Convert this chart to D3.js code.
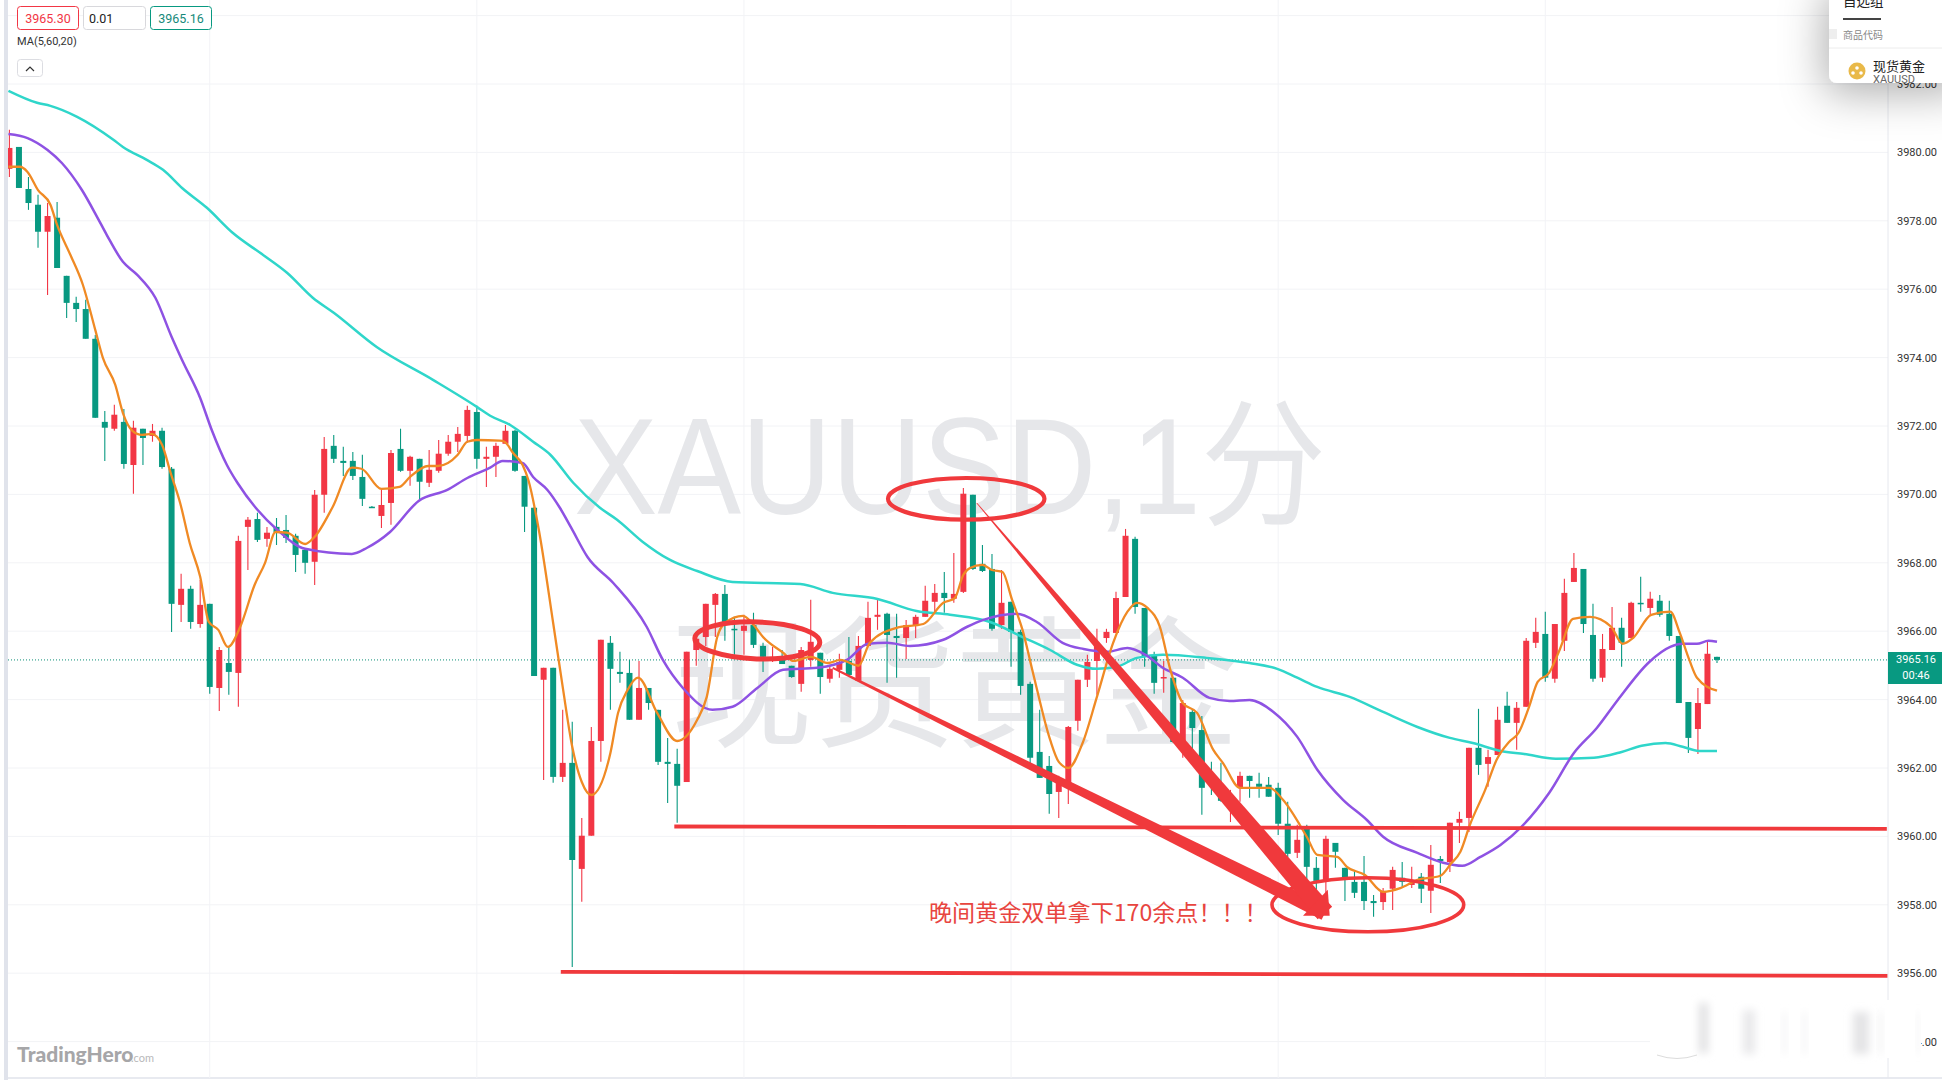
<!DOCTYPE html>
<html><head><meta charset="utf-8">
<script src="https://cdn.jsdelivr.net/npm/d3@7/dist/d3.min.js"></script>
<style>html,body{margin:0;padding:0;background:#fff;overflow:hidden}svg{display:block}</style>
</head><body><div id="chart"></div>
<script>
const opens=[3979.52,3980.16,3978.93,3978.47,3977.68,3978.09,3976.39,3975.60,3975.42,3974.55,
3972.12,3971.92,3972.12,3970.86,3971.92,3971.71,3971.86,3970.75,3966.77,3967.24,
3966.21,3966.80,3964.34,3965.07,3964.78,3969.05,3969.28,3968.70,3969.05,3968.96,
3968.79,3968.38,3968.03,3969.99,3971.42,3970.98,3970.98,3970.51,3969.64,3969.37,
3969.75,3971.33,3970.69,3971.04,3970.34,3970.69,3971.19,3971.54,3971.71,3972.41,
3971.04,3971.10,3971.48,3971.86,3970.54,3969.61,3964.58,3964.93,3961.74,3962.15,
3959.05,3960.02,3962.79,3965.66,3964.81,3964.78,3963.41,3964.34,3963.70,3962.18,
3962.12,3961.59,3965.45,3965.83,3966.77,3967.09,3966.07,3966.01,3966.18,3965.57,
3965.22,3965.25,3964.99,3964.46,3965.16,3965.37,3964.61,3964.87,3965.13,3964.55,
3965.57,3966.42,3966.51,3965.86,3965.80,3966.18,3966.42,3966.86,3967.12,3966.95,
3967.15,3969.99,3967.97,3967.82,3966.18,3966.86,3965.98,3964.46,3962.47,3962.06,
3961.30,3961.42,3963.38,3964.58,3965.13,3965.80,3965.95,3967.00,3968.70,3966.68,
3965.28,3964.64,3964.64,3962.73,3963.64,3963.11,3961.80,3961.27,3960.98,3961.42,
3961.77,3961.54,3961.51,3961.42,3960.37,3959.52,3960.22,3959.08,3958.73,3959.81,
3959.08,3958.67,3958.67,3958.11,3958.08,3958.47,3958.79,3958.58,3958.82,3958.41,
3959.34,3959.25,3960.40,3960.54,3962.59,3962.12,3962.38,3963.82,3963.32,3963.79,
3965.66,3965.92,3964.61,3965.72,3967.44,3967.82,3965.89,3964.64,3965.45,3966.10,
3965.80,3966.83,3966.68,3966.89,3966.51,3965.86,3963.93,3963.14,3963.87,3965.25];
const highs=[3980.66,3980.16,3979.28,3978.76,3978.52,3978.55,3976.39,3975.78,3975.69,3974.66,
3972.44,3972.62,3972.50,3972.15,3971.92,3972.06,3971.95,3970.80,3967.68,3967.33,
3967.50,3966.80,3965.54,3965.54,3968.79,3969.34,3969.46,3969.05,3969.31,3969.40,
3968.85,3968.41,3970.13,3971.68,3971.74,3971.39,3971.24,3971.16,3969.66,3970.19,
3971.30,3971.92,3971.13,3971.04,3971.30,3971.59,3971.74,3971.97,3972.59,3972.59,
3971.39,3971.51,3972.03,3971.89,3970.54,3969.64,3964.93,3964.93,3963.70,3963.35,
3960.54,3963.20,3965.75,3965.86,3965.40,3965.16,3965.13,3964.34,3963.70,3962.88,
3962.56,3965.40,3965.78,3966.80,3967.12,3967.35,3966.42,3966.48,3966.54,3965.66,
3965.54,3965.45,3964.99,3965.54,3966.92,3965.37,3965.02,3965.34,3965.83,3965.86,
3966.86,3966.92,3966.54,3966.51,3966.33,3966.48,3967.33,3967.38,3967.73,3968.29,
3970.19,3969.99,3968.52,3968.26,3967.79,3966.86,3966.04,3964.52,3963.70,3962.35,
3961.77,3963.23,3964.58,3965.31,3966.07,3966.07,3967.15,3968.99,3968.76,3966.68,
3965.40,3965.13,3964.64,3963.99,3963.70,3963.52,3962.18,3962.15,3961.36,3961.89,
3961.77,3961.86,3961.74,3961.57,3961.01,3960.34,3960.34,3959.40,3960.02,3959.81,
3959.08,3958.99,3959.43,3958.29,3958.49,3959.11,3959.25,3959.11,3958.93,3959.75,
3959.43,3960.40,3960.72,3962.59,3963.73,3962.53,3963.79,3964.23,3963.93,3965.80,
3966.39,3966.57,3966.21,3967.53,3968.29,3967.82,3966.80,3965.92,3966.71,3966.39,
3966.86,3967.59,3967.15,3967.06,3966.89,3965.86,3963.93,3964.34,3965.69,3965.25];
const lows=[3979.28,3978.96,3978.32,3977.21,3975.83,3976.62,3975.16,3975.04,3974.55,3972.24,
3970.98,3971.86,3970.75,3970.02,3970.86,3971.54,3970.75,3965.98,3966.27,3966.07,
3966.10,3964.17,3963.67,3964.14,3963.79,3967.79,3968.61,3968.47,3968.52,3968.58,
3967.73,3967.68,3967.35,3969.46,3970.92,3970.54,3970.42,3969.66,3969.61,3969.02,
3969.11,3970.66,3970.25,3969.81,3970.22,3970.63,3971.13,3971.24,3971.51,3970.75,
3970.22,3970.51,3971.48,3970.66,3968.90,3964.69,3961.65,3961.57,3961.59,3956.18,
3958.09,3960.02,3962.18,3963.70,3964.49,3963.41,3963.41,3963.70,3962.09,3960.98,
3960.40,3961.59,3964.99,3965.57,3965.83,3965.72,3965.31,3965.31,3965.51,3964.81,
3965.10,3965.04,3964.64,3964.23,3964.96,3964.17,3964.49,3964.64,3964.72,3964.52,
3965.57,3966.04,3964.49,3964.64,3965.19,3965.80,3966.42,3966.54,3966.54,3966.83,
3967.12,3967.79,3967.73,3966.01,3966.07,3964.96,3964.14,3962.03,3961.71,3960.66,
3960.54,3960.95,3963.09,3964.37,3964.14,3965.66,3965.95,3967.00,3966.51,3964.96,
3964.17,3964.20,3962.73,3962.30,3962.53,3960.63,3961.21,3961.01,3960.42,3961.01,
3961.13,3961.13,3961.16,3960.04,3959.40,3959.37,3958.73,3958.44,3958.23,3959.08,
3958.11,3958.20,3957.85,3957.65,3957.85,3957.85,3958.52,3958.49,3958.05,3957.76,
3958.64,3958.96,3959.81,3960.13,3961.80,3961.45,3962.38,3963.32,3962.53,3963.79,
3965.51,3964.52,3964.49,3965.42,3967.44,3965.95,3964.52,3964.52,3965.45,3964.96,
3965.80,3966.57,3966.48,3966.42,3965.72,3963.90,3962.44,3962.41,3963.87,3965.07];
const closes=[3980.13,3978.96,3978.52,3977.68,3978.14,3976.62,3975.60,3975.42,3974.55,3972.24,
3971.95,3972.33,3970.89,3971.95,3971.65,3971.86,3970.80,3966.80,3967.24,3966.27,
3966.77,3964.37,3965.45,3964.81,3968.64,3969.26,3968.67,3968.88,3968.90,3968.73,
3968.23,3968.00,3969.99,3971.33,3971.04,3970.92,3970.54,3969.87,3969.61,3969.69,
3971.21,3970.69,3971.10,3970.37,3970.72,3971.19,3971.54,3971.77,3972.47,3971.04,
3971.10,3971.42,3971.86,3970.69,3969.64,3964.69,3964.93,3961.74,3962.15,3959.31,
3960.02,3962.79,3965.75,3964.90,3964.75,3963.41,3964.34,3963.90,3962.18,3962.12,
3961.48,3965.40,3965.78,3966.80,3967.09,3966.24,3966.04,3966.16,3965.60,3965.25,
3965.25,3965.04,3964.66,3965.45,3965.69,3964.66,3964.90,3965.10,3964.72,3965.57,
3966.39,3966.48,3965.89,3965.80,3966.18,3966.42,3966.89,3967.12,3966.97,3967.09,
3970.02,3967.82,3967.76,3966.07,3966.83,3965.98,3964.40,3962.30,3961.71,3961.24,
3961.59,3963.20,3964.58,3965.10,3965.66,3965.98,3966.97,3968.79,3966.71,3965.25,
3964.49,3964.66,3962.76,3963.90,3963.17,3961.42,3961.59,3961.04,3961.16,3961.77,
3961.62,3961.45,3961.16,3960.37,3959.49,3959.90,3959.11,3958.70,3959.93,3959.55,
3958.79,3958.35,3958.11,3958.05,3958.38,3959.02,3958.67,3958.64,3958.47,3959.17,
3959.28,3960.40,3960.51,3962.59,3962.09,3962.32,3963.41,3963.32,3963.76,3965.72,
3965.98,3964.64,3966.21,3967.12,3967.85,3966.21,3964.61,3965.48,3966.10,3965.66,
3966.83,3966.80,3966.95,3966.48,3965.86,3963.90,3962.88,3963.90,3965.34,3965.16];

const ma60Idx=[-0.1,2.9,4.3,7.1,10.9,11.9,14.4,16.1,18.1,20.7,23.4,26.6,29.1,31.8,34.0,38.5,44.4,49.0,50.4,52.5,54.9,56.7,59.1,61.9,63.7,66.4,69.2,72.1,75.8,82.9,86.3,91.0,95.1,98.6,102.8,106.2,109.1,111.9,114.0,116.1,118.2,120.9,125.5,130.0,132.9,135.0,137.1,140.5,144.0,147.6,151.0,153.4,156.3,158.8,162.1,166.1,169.0,171.1,173.6,175.4,177.1,179];
const ma60Val=[3981.80,3981.45,3981.36,3981.04,3980.37,3980.16,3979.78,3979.49,3978.96,3978.38,3977.65,3977.00,3976.48,3975.75,3975.31,3974.31,3973.35,3972.56,3972.30,3972.03,3971.54,3971.16,3970.34,3969.61,3969.26,3968.61,3968.09,3967.76,3967.44,3967.38,3967.12,3966.94,3966.59,3966.48,3966.27,3965.83,3965.45,3965.02,3964.90,3964.96,3965.22,3965.31,3965.22,3965.07,3964.90,3964.64,3964.37,3964.08,3963.64,3963.20,3962.88,3962.73,3962.50,3962.41,3962.27,3962.30,3962.47,3962.65,3962.73,3962.62,3962.50,3962.50];
const ma20Idx=[-0.1,1.9,4.0,5.5,7.6,9.2,10.2,11.9,13.4,15.3,17.0,18.1,20.0,21.2,22.8,23.9,26.0,28.1,31.0,35.9,37.5,39.9,42.9,45.9,48.0,50.4,51.7,53.8,54.9,56.4,57.7,58.9,60.6,63.3,66.8,68.5,70.6,73.7,75.8,78.4,81.1,84.7,87.8,90.0,92.0,94.4,97.9,100.4,102.1,105.6,107.7,110.4,112.6,115.1,117.2,119.1,120.9,123.0,125.8,127.9,130.0,132.5,135.0,137.1,139.8,142.3,144.0,147.6,150.3,152.3,154.2,156.3,158.5,161.4,164.0,166.4,168.6,171.9,174.1,175.4,176.9,178.1,179];
const ma20Val=[3980.54,3980.42,3980.07,3979.69,3978.90,3978.11,3977.59,3976.80,3976.42,3975.75,3974.61,3973.93,3972.82,3971.89,3970.86,3970.34,3969.55,3968.96,3968.41,3968.26,3968.44,3968.90,3969.81,3970.13,3970.48,3970.78,3970.98,3970.92,3970.51,3970.13,3969.61,3969.02,3968.17,3967.41,3966.13,3965.16,3964.34,3963.70,3963.79,3964.34,3964.87,3964.93,3965.16,3965.63,3965.66,3965.57,3965.75,3966.13,3966.33,3966.51,3966.27,3965.66,3965.48,3965.40,3965.51,3965.31,3964.93,3964.64,3964.05,3963.96,3963.99,3963.64,3962.91,3961.95,3961.07,3960.48,3959.99,3959.52,3959.23,3959.14,3959.40,3959.75,3960.28,3961.27,3962.44,3963.17,3963.99,3965.10,3965.54,3965.63,3965.63,3965.72,3965.69];
const ma5Idx=[-0.1,1.1,1.9,3.0,4.3,5.0,6.4,7.7,9.0,9.8,11.1,11.9,12.9,13.9,14.9,16.0,16.9,17.9,18.9,20.0,20.9,21.9,22.9,24.2,25.7,26.8,27.9,29.1,31.0,32.0,33.9,35.9,36.9,39.0,40.9,42.0,43.9,44.9,47.0,48.0,49.0,51.4,51.9,52.8,53.8,54.4,55.5,57.0,58.0,59.0,60.0,61.0,63.0,63.8,64.8,65.9,67.9,70.0,72.1,73.1,74.2,75.0,76.9,78.0,79.0,81.1,82.2,84.0,85.8,87.1,89.0,90.2,93.0,95.8,97.9,99.1,100.0,100.7,102.0,103.0,104.1,105.1,106.2,107.3,109.1,110.0,111.0,112.5,114.0,115.7,117.2,118.2,119.3,120.6,121.7,123.0,124.5,126.2,127.2,129.0,132.1,133.5,136.0,137.1,139.2,140.2,142.1,144.0,145.8,147.6,150.0,151.1,152.1,153.1,154.7,155.9,157.2,158.2,159.3,160.2,161.4,162.5,163.9,165.7,167.9,169.1,170.2,172.1,174.1,175.1,176.1,176.9,179];
const ma5Val=[3979.58,3979.58,3979.43,3978.90,3978.47,3977.88,3977.00,3976.13,3974.81,3973.99,3973.20,3972.38,3971.86,3971.74,3971.77,3971.45,3970.63,3969.75,3968.58,3967.59,3966.27,3966.04,3965.54,3966.13,3967.35,3968.00,3968.90,3968.88,3968.55,3968.76,3969.64,3970.78,3970.75,3970.16,3970.22,3970.51,3970.83,3970.83,3971.16,3971.54,3971.59,3971.57,3971.54,3971.21,3970.86,3970.42,3968.96,3966.24,3964.37,3962.62,3961.59,3961.21,3962.44,3963.61,3964.28,3964.64,3963.61,3962.79,3963.41,3964.08,3965.83,3966.24,3966.45,3966.19,3965.83,3965.37,3965.13,3965.25,3965.07,3965.16,3964.99,3965.66,3966.10,3966.21,3966.83,3966.97,3967.65,3967.85,3967.94,3967.79,3967.73,3966.92,3966.04,3964.78,3962.82,3962.18,3962.00,3962.73,3964.08,3965.66,3966.57,3966.83,3966.68,3966.13,3964.87,3963.90,3963.61,3962.53,3962.15,3961.42,3961.42,3961.07,3959.99,3959.46,3959.40,3959.11,3958.87,3958.38,3958.49,3958.73,3958.85,3959.20,3959.55,3960.34,3961.36,3962.24,3962.76,3963.03,3963.79,3964.52,3964.78,3965.45,3966.36,3966.42,3966.13,3965.63,3965.80,3966.48,3966.57,3965.95,3965.16,3964.64,3964.26];

const priceTicks=[3984,3982,3980,3978,3976,3974,3972,3970,3968,3966,3964,3962,3960,3958,3956,3954];
const timeGridIdx=[21,49,77,105,133,161];
const lastPrice=3965.16;
const headerLabels=["3965.30","0.01","3965.16"];
const indicatorLabel="MA(5,60,20)";
const countdownLabel="00:46";
const noteLabel="晚间黄金双单拿下170余点！！！";
const wmSymbol="XAUUSD,1分", wmName="现货黄金";
const hLevels=[{i0:69.7,p0:3960.29,i1:196.8,p1:3960.22},{i0:57.8,p0:3956.04,i1:196.9,p1:3955.92}];
const circles=[{i:78.4,p:3965.73,ri:6.55,rp:0.54,rot:2},{i:100.3,p:3969.87,ri:8.2,rp:0.61,rot:0},{i:142.4,p:3958.00,ri:10.05,rp:0.79,rot:0}];
const arrows=[{i0:86.3,p0:3964.93,i1:137.9,p1:3957.76},{i0:101.4,p0:3969.75,i1:137.9,p1:3957.76}];
const arrowHead=[[135.6,3957.68],[138.2,3958.44],[138.4,3957.68]];

const W=1942,H=1080,left=8,right=1888,bottom=1078;
const n=closes.length;
const x=d3.scaleLinear().domain([0,n-1]).range([9.4,1717]);
const y=d3.scaleLinear().domain([3980,3956]).range([152.4,973.2]);
const RED="#f23645",GREEN="#089981",HAND="#f0393c";

const svg=d3.select("#chart").append("svg").attr("width",W).attr("height",H).attr("viewBox",`0 0 ${W} ${H}`);
const defs=svg.append("defs");
defs.append("clipPath").attr("id","plot").append("rect").attr("x",left).attr("y",0).attr("width",right-left).attr("height",bottom);
const sh=defs.append("filter").attr("id","panelShadow").attr("x","-80%").attr("y","-80%").attr("width","260%").attr("height","300%");
sh.append("feDropShadow").attr("dx",-4).attr("dy",10).attr("stdDeviation",22).attr("flood-color","#000").attr("flood-opacity",0.32);
defs.append("filter").attr("id","smudge").attr("x","-80%").attr("y","-50%").attr("width","260%").attr("height","200%")
  .append("feGaussianBlur").attr("stdDeviation",4);

svg.append("rect").attr("width",W).attr("height",H).attr("fill","#fff");
svg.append("rect").attr("x",4).attr("y",0).attr("width",4).attr("height",H).attr("fill","#e0e3eb");
svg.append("line").attr("x1",8).attr("x2",W).attr("y1",bottom).attr("y2",bottom).attr("stroke","#e0e3eb").attr("stroke-width",1.5);

// grid
const grid=svg.append("g").attr("stroke","#f2f3f6").attr("stroke-width",1);
grid.selectAll("line.h").data(priceTicks).join("line").attr("class","h")
  .attr("x1",left).attr("x2",right).attr("y1",d=>y(d)).attr("y2",d=>y(d));
grid.selectAll("line.v").data(timeGridIdx).join("line").attr("class","v")
  .attr("x1",d=>x(d)).attr("x2",d=>x(d)).attr("y1",0).attr("y2",bottom);

// watermark
const wm=svg.append("g").attr("fill","#e6e7ea").attr("font-family","'Liberation Sans','Noto Sans CJK SC',sans-serif");
wm.append("text").attr("x",574).attr("y",514).attr("font-size",138).attr("textLength",752).attr("lengthAdjust","spacingAndGlyphs").text(wmSymbol);
wm.append("text").attr("x",671).attr("y",736).attr("font-size",142).attr("font-family","'Noto Sans CJK SC'").text(wmName);

const plot=svg.append("g").attr("clip-path","url(#plot)");

// last price line
plot.append("line").attr("x1",left).attr("x2",right).attr("y1",y(lastPrice)).attr("y2",y(lastPrice))
  .attr("stroke","#0b8f77").attr("stroke-width",1).attr("stroke-dasharray","1 2");

// candles
const candles=d3.range(n).map(i=>({i,o:opens[i],h:highs[i],l:lows[i],c:closes[i]}));
const gc=plot.append("g");
const col=d=>d.c>=d.o?RED:GREEN;
gc.selectAll("line").data(candles).join("line")
  .attr("x1",d=>x(d.i)).attr("x2",d=>x(d.i)).attr("y1",d=>y(d.h)).attr("y2",d=>y(d.l))
  .attr("stroke",col).attr("stroke-width",1.1);
gc.selectAll("rect").data(candles).join("rect")
  .attr("x",d=>x(d.i)-3).attr("width",6)
  .attr("y",d=>y(Math.max(d.o,d.c)))
  .attr("height",d=>Math.max(1.5,Math.abs(y(d.o)-y(d.c))))
  .attr("fill",col);

// moving averages
const lineGen=d3.line().x(d=>x(d[0])).y(d=>y(d[1])).curve(d3.curveMonotoneX);
[[ma60Idx,ma60Val,"#2fd6ca",2.5],[ma20Idx,ma20Val,"#8e52e3",2.5],[ma5Idx,ma5Val,"#f08a24",2.3]].forEach(([a,b,c,w])=>{
  plot.append("path").attr("d",lineGen(a.map((v,k)=>[v,b[k]]))).attr("fill","none").attr("stroke",c).attr("stroke-width",w);
});

// annotations
const ann=svg.append("g");
const circleStroke=[5,4.2,3.6];
const arrowWidths=[[2,15],[0.7,19]];
ann.selectAll("line").data(hLevels).join("line")
  .attr("x1",d=>x(d.i0)).attr("y1",d=>y(d.p0)).attr("x2",d=>x(d.i1)).attr("y2",d=>y(d.p1))
  .attr("stroke",HAND).attr("stroke-width",3.8);
ann.selectAll("ellipse").data(circles).join("ellipse")
  .attr("cx",d=>x(d.i)).attr("cy",d=>y(d.p))
  .attr("rx",d=>x(d.i+d.ri)-x(d.i)).attr("ry",d=>y(d.p-d.rp)-y(d.p))
  .attr("transform",d=>`rotate(${d.rot} ${x(d.i)} ${y(d.p)})`)
  .attr("fill","none").attr("stroke",HAND).attr("stroke-width",(d,k)=>circleStroke[k]);
ann.selectAll("polygon.shaft").data(arrows).join("polygon").attr("class","shaft")
  .attr("points",(d,k)=>{
    const [w0,w1]=arrowWidths[k];
    const ax=x(d.i0),ay=y(d.p0),bx=x(d.i1),by=y(d.p1),L=Math.hypot(bx-ax,by-ay),nx=-(by-ay)/L,ny=(bx-ax)/L;
    return [[ax+nx*w0/2,ay+ny*w0/2],[bx+nx*w1/2,by+ny*w1/2],[bx-nx*w1/2,by-ny*w1/2],[ax-nx*w0/2,ay-ny*w0/2]].join(" ");
  }).attr("fill",HAND);
ann.append("polygon").attr("points",arrowHead.map(p=>[x(p[0]),y(p[1])]).join(" ")).attr("fill",HAND);
ann.append("text").attr("x",929).attr("y",921).attr("font-size",23.1).attr("fill","#e8453f")
  .attr("font-family","'Noto Sans CJK SC'").text(noteLabel);

// right axis
const axis=d3.axisRight(y).tickValues(priceTicks).tickFormat(d3.format(".2f")).tickSize(0).tickPadding(9);
const ga=svg.append("g").attr("transform",`translate(${right},0)`).call(axis);
ga.select(".domain").remove();
ga.selectAll("text").attr("font-family","Roboto").attr("font-size",11).attr("fill","#333");
svg.append("line").attr("x1",right).attr("x2",right).attr("y1",0).attr("y2",bottom).attr("stroke","#e6e8ee");

// smudged area bottom right (covers the start of the last axis label)
const sm=svg.append("g");
sm.append("rect").attr("x",1650).attr("y",1000).attr("width",271).attr("height",58).attr("fill","#fff");
[[1699,1003,9,50,"#e0e0e2"],[1743,1010,12,44,"#e8e8ea"],[1783,1012,3,42,"#eeeeef"],[1803,1012,3,42,"#eeeeef"],[1853,1012,16,42,"#e4e4e6"],[1879,1012,3,42,"#ececed"],[1917,1012,2,42,"#ececed"]].forEach(r=>{
  sm.append("rect").attr("x",r[0]).attr("y",r[1]).attr("width",r[2]).attr("height",r[3]).attr("fill",r[4]).attr("filter","url(#smudge)");
});
sm.append("path").attr("d","M1657 1055Q1677 1062 1697 1055").attr("fill","none").attr("stroke","#dcdcdc").attr("stroke-width",1);

// price tag
svg.append("rect").attr("x",right).attr("y",652).attr("width",W-right).attr("height",32).attr("fill","#089981");
const tag=svg.append("g").attr("fill","#fff").attr("font-family","Roboto").attr("font-size",11).attr("text-anchor","middle");
tag.append("text").attr("x",1916).attr("y",663).text(d3.format(".2f")(lastPrice));
tag.append("text").attr("x",1916).attr("y",679).text(countdownLabel);

// header widgets
const boxes=[[17,61,"#f23645","#f23645"],[83,62,"#d8d8dc","#222"],[150,61,"#089981","#16897a"]];
const hdr=svg.append("g").attr("font-family","Roboto").attr("font-size",12.5);
boxes.forEach((b,k)=>{
  hdr.append("rect").attr("x",b[0]+.5).attr("y",6.5).attr("width",b[1]).attr("height",23).attr("rx",3).attr("fill","#fff").attr("stroke",b[2]);
  hdr.append("text").attr("x",k==1?b[0]+6:b[0]+b[1]/2+.5).attr("y",22.5).attr("text-anchor",k==1?"start":"middle").attr("fill",b[3]).text(headerLabels[k]);
});
hdr.append("text").attr("x",17).attr("y",45).attr("font-size",11).attr("fill","#333").text(indicatorLabel);
hdr.append("rect").attr("x",17.5).attr("y",59.5).attr("width",25).attr("height",17).attr("rx",3).attr("fill","#fff").attr("stroke","#dcdde2");
hdr.append("path").attr("d","M26 71l4-4 4 4").attr("fill","none").attr("stroke","#333").attr("stroke-width",1.2);

// logo
const logo=svg.append("g").attr("fill","#a6a6a8");
logo.append("text").attr("x",17).attr("y",1062).attr("font-family","Lato").attr("font-weight",900).attr("font-size",21).text("TradingHero");
logo.append("text").attr("x",131).attr("y",1062).attr("font-family","Lato").attr("font-size",11).attr("fill","#b8b8ba").text(".com");

// watchlist panel
const panel=svg.append("g");
panel.append("rect").attr("x",1829).attr("y",-20).attr("width",140).attr("height",103).attr("rx",8).attr("fill","#fff").attr("filter","url(#panelShadow)");
panel.append("rect").attr("x",1829).attr("y",29).attr("width",8).attr("height",10).attr("fill","#eeeeee");
panel.append("line").attr("x1",1829).attr("x2",W).attr("y1",48).attr("y2",48).attr("stroke","#ececec");
panel.append("text").attr("x",1843).attr("y",6).attr("font-family","'Noto Sans CJK SC'").attr("font-size",13.5).attr("fill","#222").text("自选组");
panel.append("rect").attr("x",1843).attr("y",18).attr("width",38).attr("height",2).attr("fill","#444");
panel.append("text").attr("x",1843).attr("y",39).attr("font-family","'Noto Sans CJK SC'").attr("font-size",10).attr("fill","#888").text("商品代码");
panel.append("circle").attr("cx",1857).attr("cy",71).attr("r",8.5).attr("fill","#e9b949");
[[1857,68],[1853,73],[1861,73]].forEach(p=>panel.append("circle").attr("cx",p[0]).attr("cy",p[1]).attr("r",1.8).attr("fill","#fff"));
panel.append("text").attr("x",1873).attr("y",70.5).attr("font-family","'Noto Sans CJK SC'").attr("font-size",13).attr("fill","#222").text("现货黄金");
panel.append("text").attr("x",1873).attr("y",83).attr("font-family","Roboto").attr("font-size",11).attr("fill","#666").text("XAUUSD");
</script></body></html>
